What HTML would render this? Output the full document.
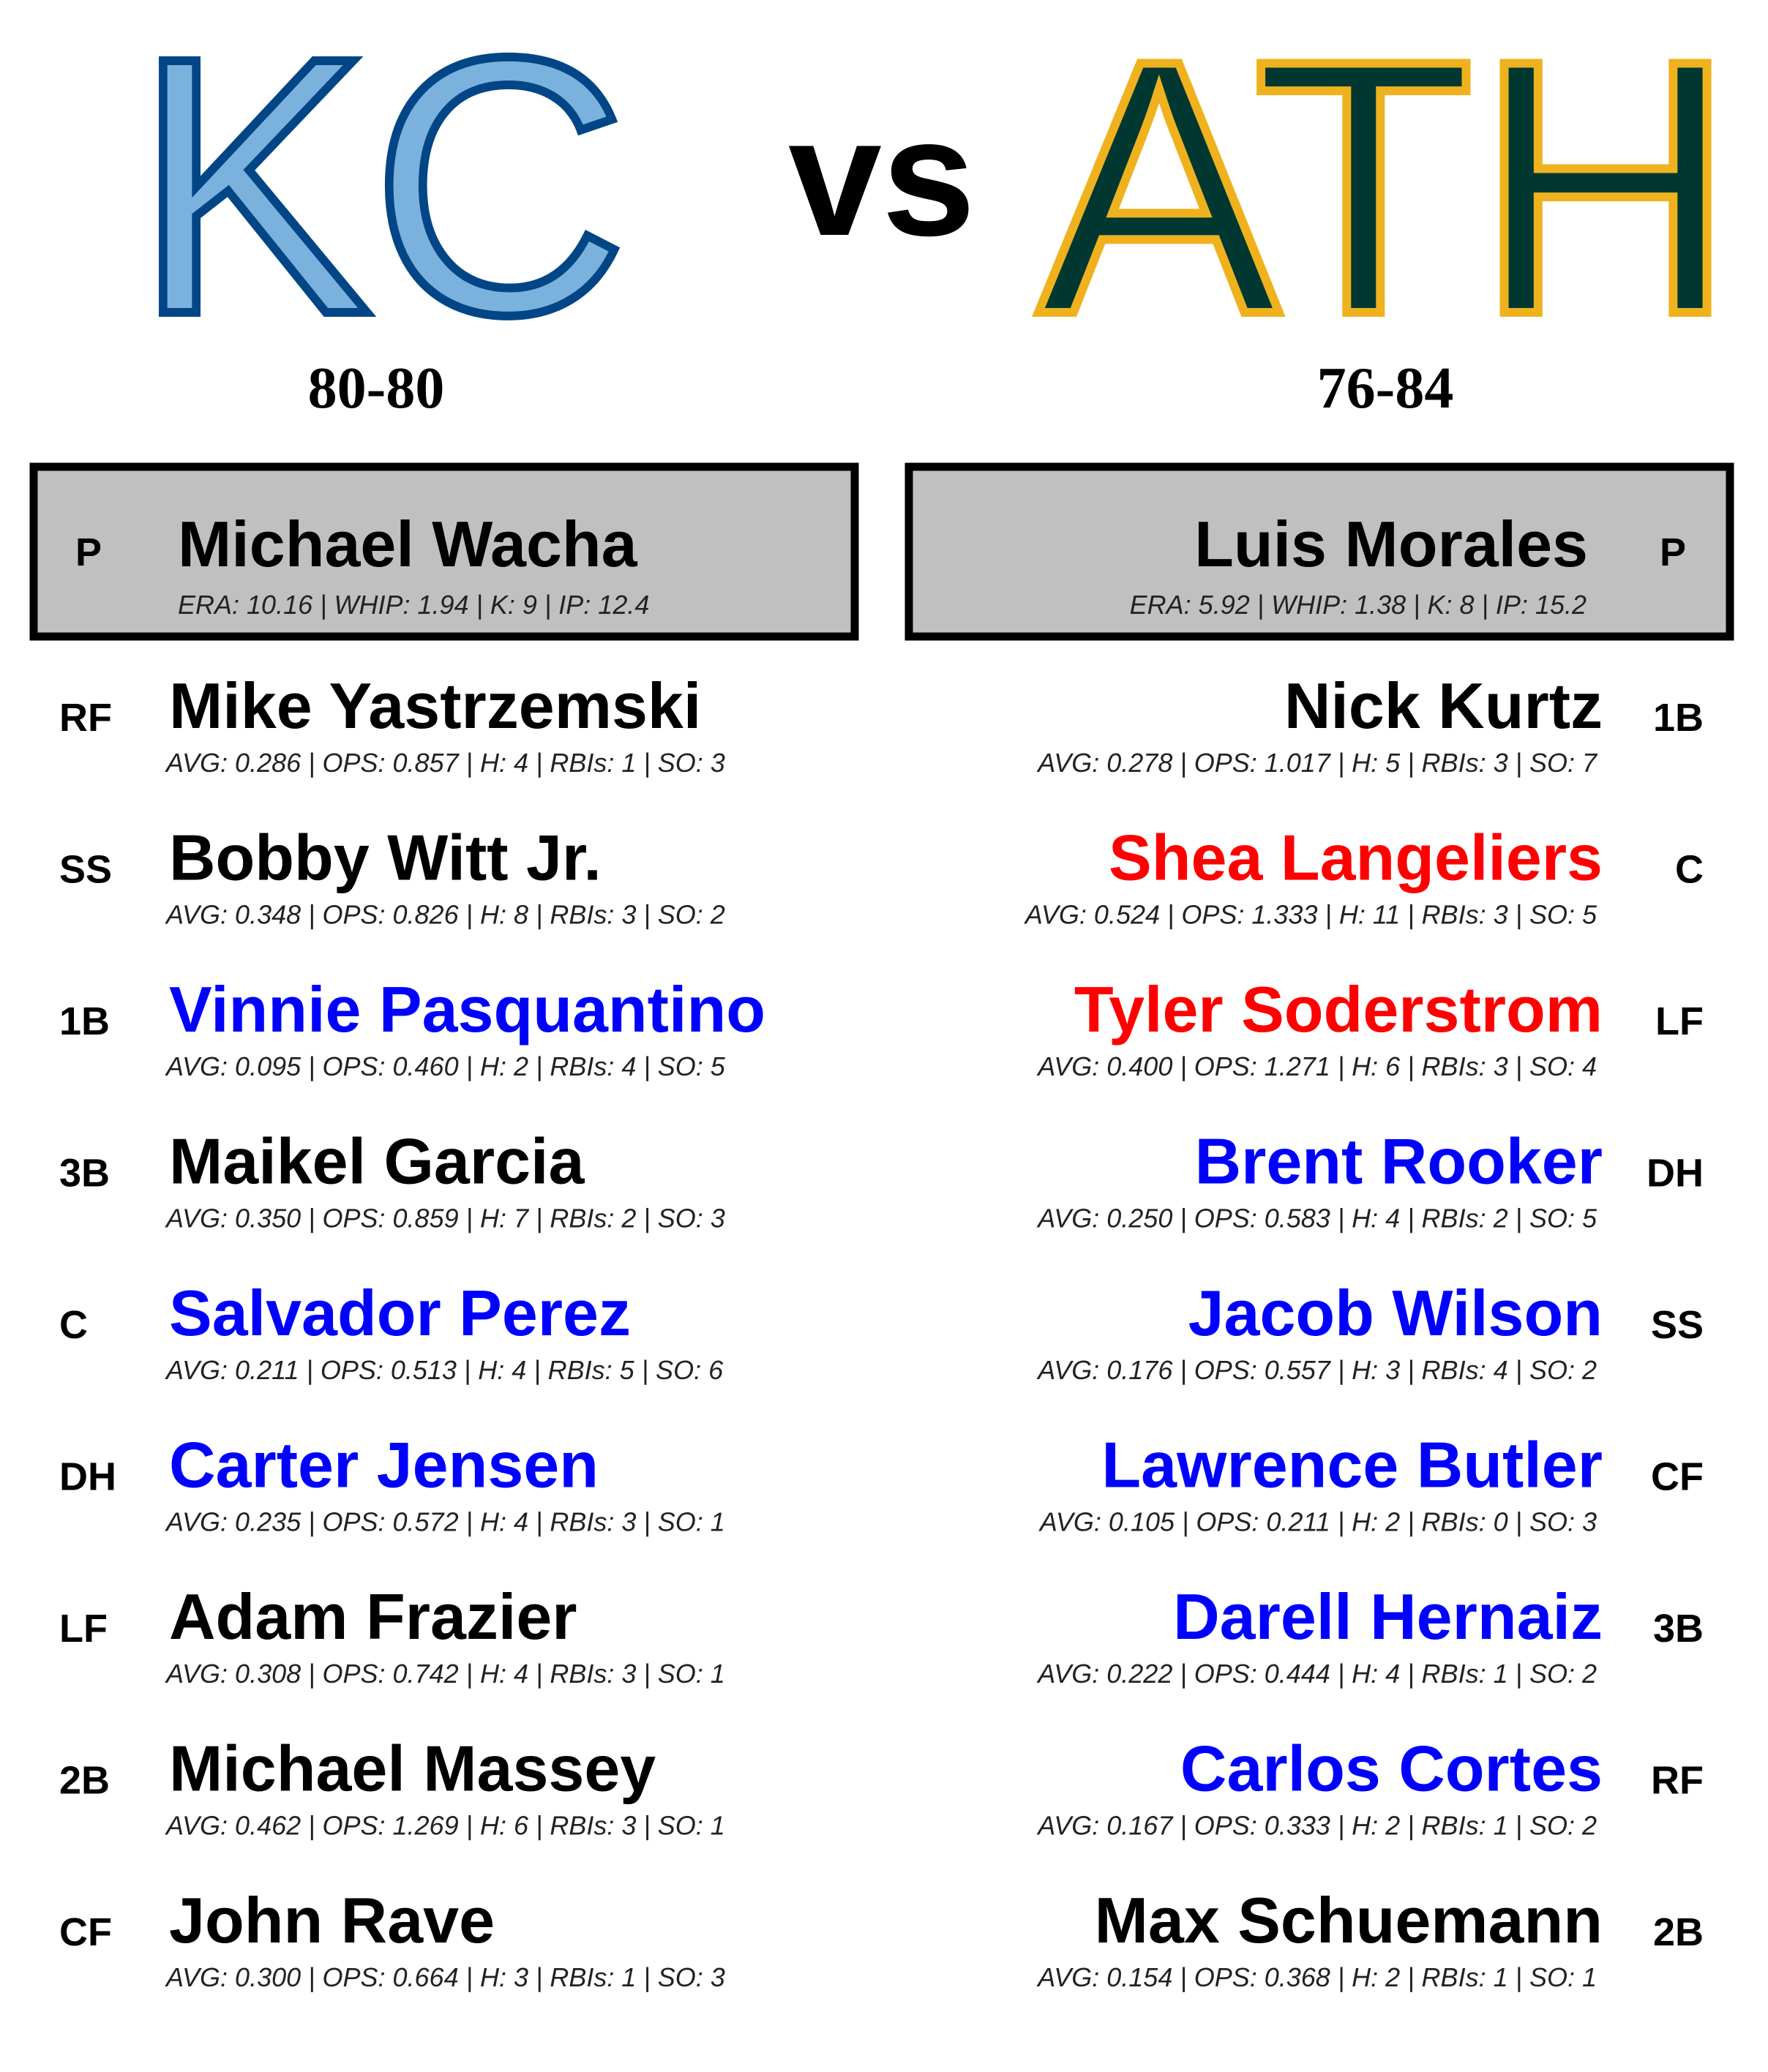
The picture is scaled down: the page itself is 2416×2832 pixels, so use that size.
<!DOCTYPE html>
<html><head><meta charset="utf-8"><style>
html,body{margin:0;padding:0;background:#fff;}
svg{display:block;}
</style></head><body>
<svg id="card" width="2416" height="2832" viewBox="0 0 2416 2832" xmlns="http://www.w3.org/2000/svg">
<rect width="2416" height="2832" fill="#fff"/>
<text x="183" y="427" font-family="Liberation Sans, sans-serif" font-size="500" textLength="675" lengthAdjust="spacingAndGlyphs" fill="#7BB2DD" stroke="#004687" stroke-width="12">KC</text>
<text x="1205" y="321" text-anchor="middle" font-family="Liberation Sans, sans-serif" font-weight="bold" font-size="230" fill="#000">vs</text>
<text x="1418" y="427" font-family="Liberation Sans, sans-serif" font-size="495" textLength="955" lengthAdjust="spacingAndGlyphs" fill="#003831" stroke="#EFB21E" stroke-width="12">ATH</text>
<text x="514" y="557" text-anchor="middle" font-family="Liberation Serif, serif" font-weight="bold" font-size="80" fill="#000">80-80</text>
<text x="1893" y="557" text-anchor="middle" font-family="Liberation Serif, serif" font-weight="bold" font-size="80" fill="#000">76-84</text>

<rect x="46" y="638" width="1122" height="232" fill="#c0c0c0" stroke="#000" stroke-width="11"/>
<text x="103" y="773" font-family="Liberation Sans, sans-serif" font-weight="bold" font-size="54">P</text>
<text x="243" y="774" font-family="Liberation Sans, sans-serif" font-weight="bold" font-size="88">Michael Wacha</text>
<text x="243" y="839" font-family="Liberation Sans, sans-serif" font-style="italic" font-size="36" fill="#222">ERA: 10.16 | WHIP: 1.94 | K: 9 | IP: 12.4</text>

<rect x="1242" y="638" width="1122" height="232" fill="#c0c0c0" stroke="#000" stroke-width="11"/>
<text x="2268" y="773" font-family="Liberation Sans, sans-serif" font-weight="bold" font-size="54">P</text>
<text x="2170" y="774" text-anchor="end" font-family="Liberation Sans, sans-serif" font-weight="bold" font-size="88">Luis Morales</text>
<text x="2168" y="839" text-anchor="end" font-family="Liberation Sans, sans-serif" font-style="italic" font-size="36" fill="#222">ERA: 5.92 | WHIP: 1.38 | K: 8 | IP: 15.2</text>
<g id="rows"></g>
</svg>
<script>
const kcPos = ["RF","SS","1B","3B","C","DH","LF","2B","CF"];
const kcNames = ["Mike Yastrzemski","Bobby Witt Jr.","Vinnie Pasquantino","Maikel Garcia","Salvador Perez","Carter Jensen","Adam Frazier","Michael Massey","John Rave"];
const kcColors = ["#000","#000","#0000ff","#000","#0000ff","#0000ff","#000","#000","#000"];
const kcStats = ["AVG: 0.286 | OPS: 0.857 | H: 4 | RBIs: 1 | SO: 3","AVG: 0.348 | OPS: 0.826 | H: 8 | RBIs: 3 | SO: 2","AVG: 0.095 | OPS: 0.460 | H: 2 | RBIs: 4 | SO: 5","AVG: 0.350 | OPS: 0.859 | H: 7 | RBIs: 2 | SO: 3","AVG: 0.211 | OPS: 0.513 | H: 4 | RBIs: 5 | SO: 6","AVG: 0.235 | OPS: 0.572 | H: 4 | RBIs: 3 | SO: 1","AVG: 0.308 | OPS: 0.742 | H: 4 | RBIs: 3 | SO: 1","AVG: 0.462 | OPS: 1.269 | H: 6 | RBIs: 3 | SO: 1","AVG: 0.300 | OPS: 0.664 | H: 3 | RBIs: 1 | SO: 3"];
const athPos = ["1B","C","LF","DH","SS","CF","3B","RF","2B"];
const athNames = ["Nick Kurtz","Shea Langeliers","Tyler Soderstrom","Brent Rooker","Jacob Wilson","Lawrence Butler","Darell Hernaiz","Carlos Cortes","Max Schuemann"];
const athColors = ["#000","#ff0000","#ff0000","#0000ff","#0000ff","#0000ff","#0000ff","#0000ff","#000"];
const athStats = ["AVG: 0.278 | OPS: 1.017 | H: 5 | RBIs: 3 | SO: 7","AVG: 0.524 | OPS: 1.333 | H: 11 | RBIs: 3 | SO: 5","AVG: 0.400 | OPS: 1.271 | H: 6 | RBIs: 3 | SO: 4","AVG: 0.250 | OPS: 0.583 | H: 4 | RBIs: 2 | SO: 5","AVG: 0.176 | OPS: 0.557 | H: 3 | RBIs: 4 | SO: 2","AVG: 0.105 | OPS: 0.211 | H: 2 | RBIs: 0 | SO: 3","AVG: 0.222 | OPS: 0.444 | H: 4 | RBIs: 1 | SO: 2","AVG: 0.167 | OPS: 0.333 | H: 2 | RBIs: 1 | SO: 2","AVG: 0.154 | OPS: 0.368 | H: 2 | RBIs: 1 | SO: 1"];
const NS="http://www.w3.org/2000/svg";
const g=document.getElementById('rows');
function rowY(i){return 995+i*207.5;}
function txt(x,y,s,size,opts){
  const t=document.createElementNS(NS,'text');
  t.setAttribute('x',x);t.setAttribute('y',y);
  t.setAttribute('font-family','Liberation Sans, sans-serif');
  t.setAttribute('font-size',size);
  if(opts.bold)t.setAttribute('font-weight','bold');
  if(opts.italic)t.setAttribute('font-style','italic');
  if(opts.anchor)t.setAttribute('text-anchor',opts.anchor);
  t.setAttribute('fill',opts.fill||'#000');
  t.textContent=s;g.appendChild(t);return t;
}
for(let i=0;i<kcNames.length;i++){
  const y=rowY(i);
  let a=txt(81,y+4,kcPos[i],54,{bold:1});
  
  
  let b=txt(231,y,kcNames[i],88,{bold:1,fill:kcColors[i]});
  
  
  let c=txt(227,y+60,kcStats[i],36,{italic:1,fill:'#222'});
  
  
}
for(let i=0;i<athNames.length;i++){
  const y=rowY(i);
  let a=txt(2328,y+4,athPos[i],54,{bold:1,anchor:'end'});
  
  
  let b=txt(2190,y,athNames[i],88,{bold:1,anchor:'end',fill:athColors[i]});
  
  
  let c=txt(2182,y+60,athStats[i],36,{italic:1,anchor:'end',fill:'#222'});
  
  
}
</script>
</body></html>
